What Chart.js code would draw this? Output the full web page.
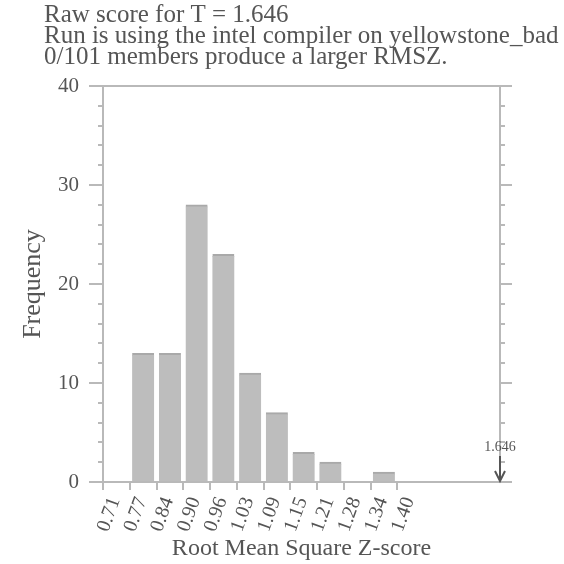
<!DOCTYPE html>
<html>
<head>
<meta charset="utf-8">
<script src="https://cdn.jsdelivr.net/npm/chart.js@4/dist/chart.umd.min.js"></script>
<style>
html,body{margin:0;padding:0;background:#fff;}
#wrap{width:564px;height:564px;}
</style>
</head>
<body>
<div id="wrap"><canvas id="c"></canvas></div>
<script>
// data
const titleLines = [
    "Raw score for T = 1.646",
    "Run is using the intel compiler on yellowstone_bad",
    "0/101 members produce a larger RMSZ."
];
const binEdges = ["0.71","0.77","0.84","0.90","0.96","1.03","1.09","1.15","1.21","1.28","1.34","1.40"];
const counts   = [0, 13, 13, 28, 23, 11, 7, 3, 2, 0, 1];
const yMax = 40;
const rawScoreLabel = "1.646";
const rawScorePos = 14.84;   // where T sits on the bin axis (right edge)

const serif = '"Liberation Serif", "DejaVu Serif", serif';
const ink = "#555";
const lineCol = "#b9b9b9";

const barData = counts.map((c,i)=>({x:i+0.5, y:c||null}));

const frame = {
    id:"frame",
    afterDraw(chart){
        const {ctx, chartArea:a, scales} = chart;
        const y = scales.y, x = scales.x;
        ctx.save();
        ctx.strokeStyle = lineCol; ctx.lineWidth = 2;
        // top border
        ctx.beginPath(); ctx.moveTo(a.left, a.top); ctx.lineTo(a.right, a.top); ctx.stroke();
        // minor ticks every 2
        for(let v=2; v<yMax; v+=2){
            if(v%10===0) continue;
            const py = Math.round(y.getPixelForValue(v));
            ctx.beginPath();
            ctx.moveTo(a.left-5, py); ctx.lineTo(a.left, py);
            ctx.moveTo(a.right, py); ctx.lineTo(a.right+5, py);
            ctx.stroke();
        }
        // title block
        ctx.fillStyle = ink;
        ctx.font = "25px " + serif;
        ctx.textBaseline = "alphabetic";
        titleLines.forEach((t,i)=>ctx.fillText(t, 44, 22 + i*21));
        // raw score marker
        const mx = x.getPixelForValue(rawScorePos);
        ctx.font = "14px " + serif;
        ctx.textAlign = "center";
        ctx.textBaseline = "middle";
        ctx.fillText(rawScoreLabel, mx, 447);
        ctx.strokeStyle = "#555"; ctx.lineWidth = 2;
        ctx.beginPath(); ctx.moveTo(mx, 456); ctx.lineTo(mx, a.bottom-1); ctx.stroke();
        ctx.beginPath(); ctx.moveTo(mx-5, a.bottom-11); ctx.lineTo(mx, a.bottom-1); ctx.lineTo(mx+5, a.bottom-11); ctx.stroke();
        ctx.restore();
    }
};

new Chart(document.getElementById("c"), {
    type:"bar",
    data:{ datasets:[{
        data: barData,
        backgroundColor:"#bdbdbd",
        borderColor:"#a9a9a9",
        borderWidth:{top:2,left:0,right:0,bottom:0},
        borderSkipped:"bottom",
        barThickness:22
    }]},
    options:{
        responsive:true, maintainAspectRatio:false, animation:false,
        layout:{padding:{top:86,right:52,bottom:0,left:0}},
        plugins:{legend:{display:false}, tooltip:{enabled:false}},
        scales:{
            x:{
                type:"linear", min:0, max:rawScorePos, offset:false,
                afterBuildTicks(s){ s.ticks = binEdges.map((_,i)=>({value:i})); },
                afterFit(s){ s.height = 82; },
                grid:{drawOnChartArea:false, offset:false, tickLength:8, color:lineCol, lineWidth:2},
                border:{color:lineCol, width:2},
                ticks:{
                    autoSkip:false, minRotation:70, maxRotation:70, labelOffset:12, padding:4,
                    color:ink, font:{family:serif, size:20},
                    callback:(v,i)=>binEdges[i]
                },
                title:{display:true, text:"Root Mean Square Z-score", color:ink,
                       font:{family:serif, size:24}, padding:{top:0,bottom:1}}
            },
            y:{
                min:0, max:yMax,
                afterFit(s){ s.width = 103; },
                grid:{drawOnChartArea:false, tickLength:14, color:lineCol, lineWidth:2},
                border:{color:lineCol, width:2},
                ticks:{stepSize:10, padding:10, color:ink, font:{family:serif, size:21}},
                title:{display:true, text:"Frequency", color:ink,
                       font:{family:serif, size:26}, padding:{top:18,bottom:0}}
            },
            y2:{
                position:"right", min:0, max:yMax,
                afterFit(s){ s.width = 12; },
                grid:{drawOnChartArea:false, tickLength:12, color:lineCol, lineWidth:2},
                border:{color:lineCol, width:2},
                ticks:{stepSize:10, display:false}
            }
        }
    },
    plugins:[frame]
});
</script>
</body>
</html>
